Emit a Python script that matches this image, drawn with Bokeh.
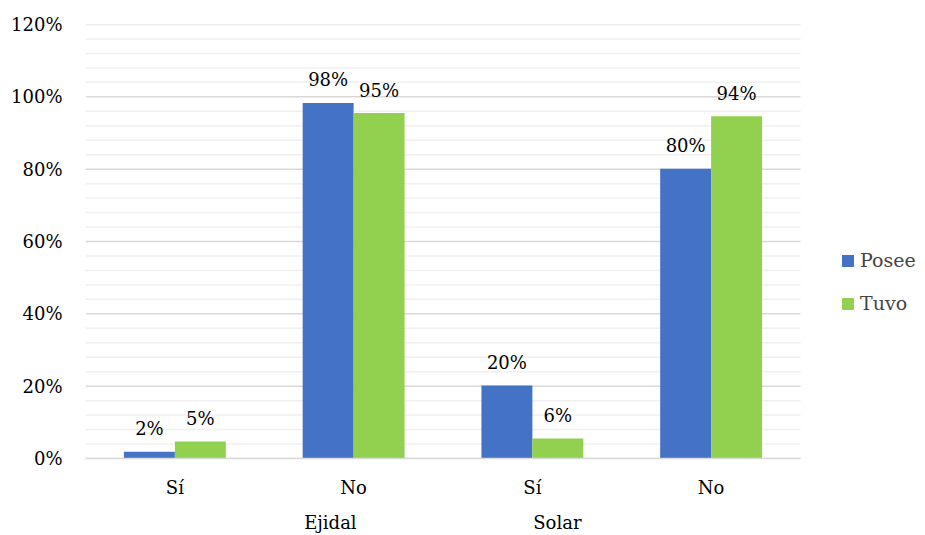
from bokeh.plotting import figure
from bokeh.models import (ColumnDataSource, FixedTicker, Legend, LegendItem,
                          LinearAxis, Range1d)
from bokeh.core.properties import value
from bokeh.embed import file_html
from bokeh.resources import INLINE

categories = ["Sí", "No", "Sí", "No"]
groups = ["Ejidal", "Solar"]
group_pos = [1.37, 2.64]
posee = [1.9, 98.3, 20.2, 80.1]
tuvo = [4.7, 95.5, 5.5, 94.6]
posee_labels = ["2%", "98%", "20%", "80%"]
tuvo_labels = ["5%", "95%", "6%", "94%"]
y_major = list(range(0, 121, 20))
y_minor = [v for v in range(0, 121, 4) if v % 20]

FONT = "DejaVu Serif"
FS = "18px"
BLUE = "#4472c4"
GREEN = "#92d050"

bw = 0.285
idx = list(range(len(categories)))
n = len(categories)
src_p = ColumnDataSource(dict(
    left=[i + 0.5 - bw for i in idx], right=[i + 0.5 for i in idx],
    top=posee, x=[i + 0.5 - bw / 2 for i in idx], lab=posee_labels))
src_t = ColumnDataSource(dict(
    left=[i + 0.5 for i in idx], right=[i + 0.5 + bw for i in idx],
    top=tuvo, x=[i + 0.5 + bw / 2 for i in idx], lab=tuvo_labels))

p = figure(width=925, height=535, output_backend="svg", toolbar_location=None,
           x_range=Range1d(0, n * 840 / 715), y_range=Range1d(0, 120))
p.min_border_left = 85
p.min_border_right = 0
p.min_border_top = 24
p.min_border_bottom = 77
p.outline_line_color = None
p.background_fill_color = "white"
p.border_fill_color = "white"
p.xgrid.grid_line_color = None
p.ygrid.grid_line_color = None

# gridlines limited to the category area
p.segment(x0=0, x1=n, y0=y_minor, y1=y_minor, line_color="#f0f0f0", line_width=1.5)
p.segment(x0=0, x1=n, y0=y_major, y1=y_major, line_color="#d9d9d9", line_width=1.5)

rp = p.quad(left="left", right="right", bottom=0, top="top", source=src_p,
            fill_color=BLUE, line_color=None)
rt = p.quad(left="left", right="right", bottom=0, top="top", source=src_t,
            fill_color=GREEN, line_color=None)

for src in (src_p, src_t):
    p.text(x="x", y="top", text="lab", source=src, text_align="center",
           text_baseline="middle", y_offset=-23, text_font=value(FONT),
           text_font_size=FS, text_color="#000000")

# y axis
p.yaxis.ticker = FixedTicker(ticks=y_major)
p.yaxis.major_label_overrides = {v: f"{v}%" for v in y_major}
p.yaxis.axis_line_color = None
p.yaxis.major_tick_line_color = None
p.yaxis.minor_tick_line_color = None
p.yaxis.major_tick_out = 0
p.yaxis.major_label_text_font = FONT
p.yaxis.major_label_text_font_size = FS
p.yaxis.major_label_text_color = "#000000"
p.yaxis.major_label_standoff = 23

# x axis (categories)
p.xaxis.ticker = FixedTicker(ticks=[i + 0.5 for i in idx])
p.xaxis.major_label_overrides = {i + 0.5: c for i, c in zip(idx, categories)}
p.xaxis.bounds = (0, n)
p.xaxis.axis_line_color = "#d9d9d9"
p.xaxis.axis_line_width = 1.5
p.xaxis.major_tick_line_color = None
p.xaxis.minor_tick_line_color = None
p.xaxis.major_tick_out = 0
p.xaxis.major_label_text_font = FONT
p.xaxis.major_label_text_font_size = FS
p.xaxis.major_label_text_color = "#000000"
p.xaxis.major_label_standoff = 18

# group axis
gaxis = LinearAxis(ticker=FixedTicker(ticks=group_pos),
                   major_label_overrides={gp: g for gp, g in zip(group_pos, groups)})
gaxis.axis_line_color = None
gaxis.major_tick_line_color = None
gaxis.minor_tick_line_color = None
gaxis.major_tick_out = 0
gaxis.major_label_text_font = FONT
gaxis.major_label_text_font_size = FS
gaxis.major_label_text_color = "#000000"
gaxis.major_label_standoff = 11
p.add_layout(gaxis, "below")

legend = Legend(items=[LegendItem(label="Posee", renderers=[rp]),
                       LegendItem(label="Tuvo", renderers=[rt])],
                location=(755, 144), orientation="vertical")
legend.label_text_font = FONT
legend.label_text_font_size = "19px"
legend.glyph_width = 15
legend.glyph_height = 15
legend.spacing = 21
legend.label_standoff = 5
legend.border_line_color = None
legend.background_fill_alpha = 0
legend.padding = 0
legend.margin = 0
p.add_layout(legend, "center")

open("out.html", "w").write(file_html(p, INLINE))
